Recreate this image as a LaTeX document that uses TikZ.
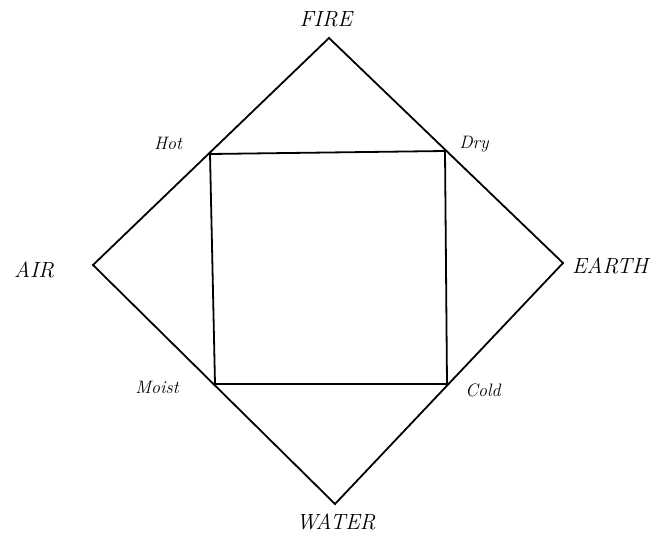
\documentclass[tikz,border=0pt]{standalone}
\usepackage{fontspec}
\begin{document}
\begin{tikzpicture}[x=1pt,y=-1pt,
  edge/.style={line width=1.8pt,line join=miter},
  big/.style={font=\fontsize{22}{24}\selectfont\itshape},
  small/.style={font=\fontsize{18}{20}\selectfont\itshape}]
\useasboundingbox (0,0) rectangle (652,535);
\coordinate (F) at (329,38);
\coordinate (E) at (563,263);
\coordinate (W) at (335,504);
\coordinate (A) at (93,265);
\coordinate (H) at (210,154);
\coordinate (D) at (445,151);
\coordinate (C) at (447,384);
\coordinate (M) at (215,384);
\draw[edge] (F) -- (E) -- (W) -- (A) -- cycle;
\draw[edge] (H) -- (D) -- (C) -- (M) -- cycle;
\node[big] (lf) at (326,19) {FIRE};
\node[big] (la) at (34,270) {AIR};
\node[big] (le) at (610,266) {EARTH};
\node[big] (lw) at (336,522) {WATER};
\node[small] (lh) at (168,143) {Hot};
\node[small] (ld) at (474,144) {Dry};
\node[small] (lm) at (157,387) {Moist};
\node[small] (lc) at (483,390) {Cold};
\end{tikzpicture}
\end{document}
